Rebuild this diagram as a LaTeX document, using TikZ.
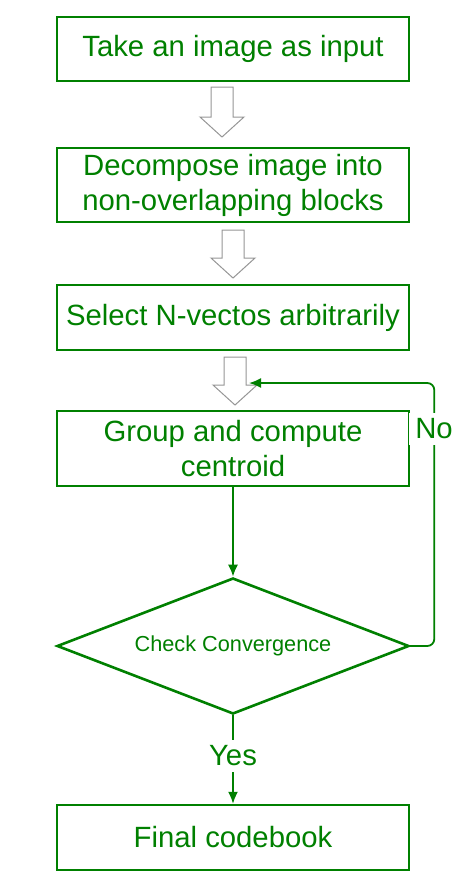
\documentclass[tikz,border=0pt]{standalone}
\usepackage{fontspec}
\setmainfont{Liberation Sans}
\usetikzlibrary{shapes.geometric,arrows.meta}
\definecolor{flowgreen}{RGB}{0,128,0}
\definecolor{hollowgray}{RGB}{150,150,150}
\tikzset{
  procbox/.style={draw=flowgreen,line width=2.4pt,text=flowgreen,align=center,
    minimum width=352pt,inner sep=0pt,font=\fontsize{29.3}{35}\selectfont},
  decision/.style={diamond,draw=flowgreen,line width=2.6pt,text=flowgreen,aspect=2.6,
    minimum width=352pt,minimum height=136pt,inner sep=0pt,font=\fontsize{21.7}{26}\selectfont},
  flow/.style={draw=flowgreen,line width=1.8pt,->},
  answer/.style={text=flowgreen,fill=white,inner sep=6pt,font=\fontsize{29.3}{34}\selectfont}
}
\begin{document}
\begin{tikzpicture}[x=1pt,y=-1pt,line cap=round,>={Latex[length=12pt,width=10pt]}]
  \useasboundingbox (0,0) rectangle (473,894);
  \node[procbox,minimum height=64pt] (input) at (233,49) {Take an image as input};
  \node[procbox,minimum height=74pt] (blocks) at (233,185) {Decompose image into\\non-overlapping blocks};
  \node[procbox,minimum height=65pt] (select) at (233,317.5) {Select N-vectos arbitrarily};
  \node[procbox,minimum height=75pt] (group) at (233,448.5) {Group and compute\\centroid};
  \node[decision] (check) at (233,646) {Check Convergence};
  \node[procbox,minimum height=65pt] (final) at (233,837.5) {Final codebook};
  % hollow arrows between the first boxes
  \foreach \cx/\top/\tip in {222/87/137,233/230/278,235/357/405}
    \draw[hollowgray,line width=1pt,line join=miter,fill=white]
      (\cx-11,\top) -- (\cx+11,\top) -- (\cx+11,\tip-20) -- (\cx+22,\tip-20)
      -- (\cx,\tip) -- (\cx-22,\tip-20) -- (\cx-11,\tip-20) -- cycle;
  \draw[flow] (group.south) -- (check.north);
  \coordinate (loopend) at (249,383);
  \draw[flow,rounded corners=7pt] (check.east) -- ++(24,0) |- (loopend);
  \node[answer] (no) at (434,429) {No};
  \draw[flow] (check.south) -- (final.north) node[answer,pos=0.46] (yes) {Yes};
\end{tikzpicture}
\end{document}
